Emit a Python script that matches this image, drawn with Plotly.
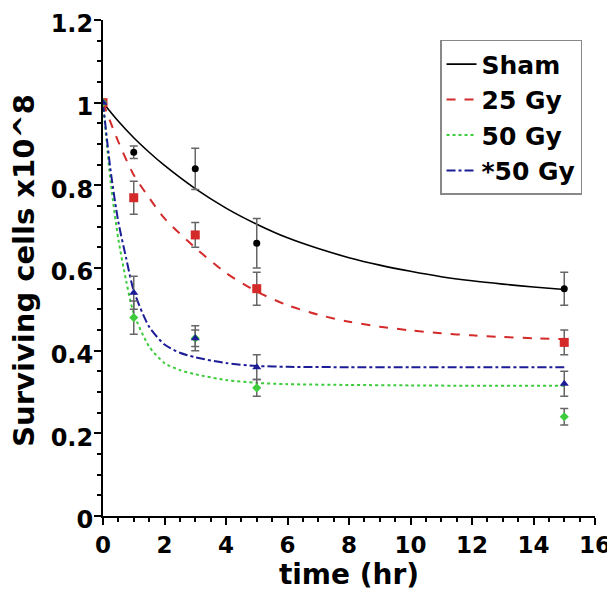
import plotly.graph_objects as go

# Measured points (time in hr, surviving cells x10^8)
t_pts = [0, 1, 3, 5, 15]
sham_y = [1.0, 0.88, 0.84, 0.66, 0.55]
sham_err = [0.0, 0.015, 0.05, 0.06, 0.04]
gy25_y = [1.0, 0.77, 0.68, 0.55, 0.42]
gy25_err = [0.0, 0.04, 0.03, 0.04, 0.03]
gy50_y = [1.0, 0.48, 0.43, 0.31, 0.24]
gy50_err = [0.0, 0.04, 0.02, 0.02, 0.02]
sgy50_y = [1.0, 0.54, 0.43, 0.36, 0.32]
sgy50_err = [0.0, 0.04, 0.03, 0.03, 0.03]

# Fitted curves
t_fit_slow = [0, 0.5, 1, 1.5, 2, 3, 4, 5, 6, 7, 8, 9, 10, 11, 12, 13, 14, 15]
sham_fit = [1.0, 0.955, 0.915, 0.88, 0.848, 0.792, 0.745, 0.706, 0.673, 0.647,
            0.625, 0.607, 0.592, 0.579, 0.569, 0.561, 0.554, 0.548]
gy25_fit = [1.0, 0.905, 0.825, 0.77, 0.72, 0.649, 0.588, 0.543, 0.51, 0.487,
            0.47, 0.458, 0.449, 0.442, 0.437, 0.433, 0.43, 0.428]
t_fit_fast = [0, 0.25, 0.5, 0.75, 1, 1.5, 2, 2.5, 3, 4, 5, 6, 8, 10, 12, 15]
gy50_fit = [1.0, 0.807, 0.669, 0.57, 0.49, 0.41, 0.37, 0.353, 0.343, 0.329,
            0.322, 0.319, 0.317, 0.316, 0.315, 0.315]
sgy50_fit = [1.0, 0.834, 0.711, 0.625, 0.545, 0.458, 0.415, 0.395, 0.384, 0.37,
             0.363, 0.361, 0.36, 0.36, 0.36, 0.36]

x_ticks = [0, 2, 4, 6, 8, 10, 12, 14, 16]
y_ticks = [0, 0.2, 0.4, 0.6, 0.8, 1, 1.2]
y_tick_text = ["0", "0.2", "0.4", "0.6", "0.8", "1", "1.2"]

FONT = "DejaVu Sans"
series = [
    ("Sham", t_fit_slow, sham_fit, sham_y, sham_err, "#000000", "solid", "circle", 7),
    ("25 Gy", t_fit_slow, gy25_fit, gy25_y, gy25_err, "#d42a2a", "dash", "square", 9),
    ("50 Gy", t_fit_fast, gy50_fit, gy50_y, gy50_err, "#3ccc3c", "dot", "diamond", 7),
    ("*50 Gy", t_fit_fast, sgy50_fit, sgy50_y, sgy50_err, "#1c1c96", "dashdot", "triangle-up", 8),
]

fig = go.Figure()
for name, tf, yf, yp, ye, col, dash, sym, ms in series:
    fig.add_trace(go.Scatter(
        x=tf, y=yf, mode="lines", name=name,
        line=dict(color=col, dash=dash, width=2 if dash != "solid" else 1.6,
                  shape="spline", smoothing=0.7),
        showlegend=True))
for name, tf, yf, yp, ye, col, dash, sym, ms in series:
    fig.add_trace(go.Scatter(
        x=t_pts, y=yp, mode="markers", name=name, showlegend=False,
        marker=dict(color=col, symbol=sym, size=ms),
        error_y=dict(type="data", array=ye, color="#666666", thickness=1.5, width=4)))

fig.update_layout(
    width=607, height=584,
    margin=dict(l=95, r=20, t=12, b=76),
    paper_bgcolor="white", plot_bgcolor="white",
    font=dict(family=FONT, size=22, color="black"),
    legend=dict(x=0.685, y=0.96, xanchor="left", yanchor="top",
                bordercolor="#888888", borderwidth=1.5, bgcolor="white",
                font=dict(family=FONT, size=25, color="black", weight="bold"),
                itemwidth=30, tracegroupgap=0),
    annotations=[dict(text="Surviving cells x10^8", xref="paper", yref="paper",
                      x=-0.161, y=0.496, xanchor="center", yanchor="middle",
                      textangle=-90, showarrow=False,
                      font=dict(family=FONT, size=29, weight="bold", color="black"))],
)
fig.update_xaxes(
    range=[0, 16], tickvals=x_ticks, ticktext=[str(v) for v in x_ticks],
    automargin=False,
    showline=True, linecolor="black", linewidth=2, showgrid=False, zeroline=False,
    ticks="outside", ticklen=7, tickwidth=2, tickcolor="black",
    tickfont=dict(family=FONT, size=23, weight="bold"),
    minor=dict(dtick=0.5, ticks="outside", ticklen=4, tickwidth=1.5, tickcolor="black", showgrid=False),
    title=dict(text="time (hr)", font=dict(family=FONT, size=28, weight="bold"), standoff=2),
)
fig.update_yaxes(
    range=[0, 1.2], tickvals=y_ticks, ticktext=y_tick_text,
    automargin=False, ticklabeloverflow="allow", ticklabelstandoff=-4, ticklabelshift=4,
    showline=True, linecolor="black", linewidth=2, showgrid=False, zeroline=False,
    ticks="outside", ticklen=7, tickwidth=2, tickcolor="black",
    tickfont=dict(family=FONT, size=24, weight="bold"),
    minor=dict(dtick=0.05, ticks="outside", ticklen=4, tickwidth=1.5, tickcolor="black", showgrid=False),
)

fig.write_html("out.html")
